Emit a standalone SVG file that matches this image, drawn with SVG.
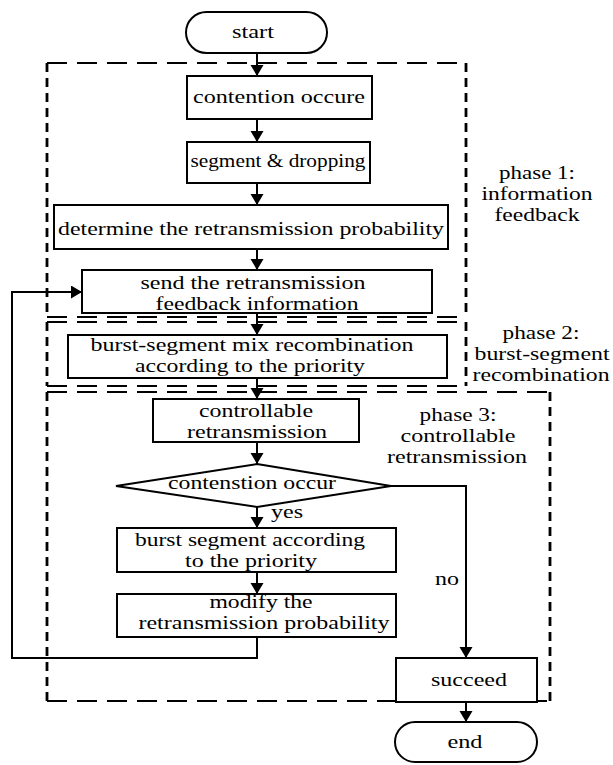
<svg xmlns="http://www.w3.org/2000/svg" width="613" height="765" viewBox="0 0 613 765">
<style>
text{font-family:"Liberation Serif","Times New Roman",serif;font-size:18.8px;fill:#000;text-anchor:middle}
.box{fill:#fff;stroke:#000;stroke-width:2}
.dh{fill:none;stroke:#000;stroke-width:2.2;stroke-dasharray:20 10}
.dv{fill:none;stroke:#000;stroke-width:2.8;stroke-dasharray:9 6}
.ln{fill:none;stroke:#000;stroke-width:2}
</style>
<defs>
<marker id="ah" markerUnits="userSpaceOnUse" markerWidth="12" markerHeight="14" refX="11" refY="6.5" orient="auto">
<path d="M0,0 L11,6.5 L0,13 z" fill="#000"/>
</marker>
</defs>
<rect width="613" height="765" fill="#fff"/>
<g id="phase1">
<path class="dh" d="M47,63 H466 M47,317 H466"/>
<path class="dv" d="M47,63 V317 M466,63 V317"/>
</g>
<g id="phase2">
<path class="dh" d="M47,322 H466 M47,386 H466"/>
<path class="dv" d="M47,322 V386 M466,322 V386"/>
</g>
<g id="phase3">
<path class="dh" d="M47,392 H550 M47,701 H550"/>
<path class="dv" d="M47,392 V701 M550,392 V701"/>
</g>
<g id="connectors">
<path class="ln" d="M257,53 V76" marker-end="url(#ah)"/>
<path class="ln" d="M257,119 V142" marker-end="url(#ah)"/>
<path class="ln" d="M257,183 V205" marker-end="url(#ah)"/>
<path class="ln" d="M257,249 V270" marker-end="url(#ah)"/>
<path class="ln" d="M257,313 V335" marker-end="url(#ah)"/>
<path class="ln" d="M257,378 V399" marker-end="url(#ah)"/>
<path class="ln" d="M257,442 V464" marker-end="url(#ah)"/>
<path class="ln" d="M257,507 V528" marker-end="url(#ah)"/>
<path class="ln" d="M257,572 V594" marker-end="url(#ah)"/>
<path class="ln" d="M391,486 H466 V658" marker-end="url(#ah)"/>
<path class="ln" d="M466,702 V722" marker-end="url(#ah)"/>
<path class="ln" d="M257,637 V658 H12 V292 H82" marker-end="url(#ah)"/>
<text x="271" y="518" style="text-anchor:start" textLength="32" lengthAdjust="spacingAndGlyphs">yes</text>
<text x="447" y="585" textLength="24" lengthAdjust="spacingAndGlyphs">no</text>
</g>
<g id="start">
<rect class="box" x="186" y="12" width="141" height="41" rx="20.5" ry="20.5"/>
<text x="253" y="38" textLength="42" lengthAdjust="spacingAndGlyphs">start</text>
</g>
<g id="contention">
<rect class="box" x="187" y="76" width="185" height="43"/>
<text x="279" y="103" textLength="172" lengthAdjust="spacingAndGlyphs">contention occure</text>
</g>
<g id="segment">
<rect class="box" x="187" y="142" width="183" height="41"/>
<text x="278" y="167" textLength="175" lengthAdjust="spacingAndGlyphs">segment &amp; dropping</text>
</g>
<g id="determine">
<rect class="box" x="54" y="205" width="394" height="44"/>
<text x="251" y="235" textLength="386" lengthAdjust="spacingAndGlyphs">determine the retransmission probability</text>
</g>
<g id="send">
<rect class="box" x="82" y="270" width="350" height="43"/>
<text x="253" y="289" textLength="225" lengthAdjust="spacingAndGlyphs">send the retransmission</text>
<text x="257" y="310" textLength="203" lengthAdjust="spacingAndGlyphs">feedback information</text>
</g>
<g id="mix">
<rect class="box" x="68" y="335" width="379" height="43"/>
<text x="252" y="351" textLength="323" lengthAdjust="spacingAndGlyphs">burst-segment mix recombination</text>
<text x="250" y="372" textLength="230" lengthAdjust="spacingAndGlyphs">according to the priority</text>
</g>
<g id="controllable">
<rect class="box" x="153" y="399" width="206" height="43"/>
<text x="256" y="417" textLength="114" lengthAdjust="spacingAndGlyphs">controllable</text>
<text x="257" y="438" textLength="140" lengthAdjust="spacingAndGlyphs">retransmission</text>
</g>
<g id="decision">
<path class="box" d="M257,464 L391,486 L257,507 L116,486 Z"/>
<text x="252" y="489" textLength="168" lengthAdjust="spacingAndGlyphs">contenstion occur</text>
</g>
<g id="burst">
<rect class="box" x="117" y="528" width="279" height="44"/>
<text x="250" y="546" textLength="230" lengthAdjust="spacingAndGlyphs">burst segment according</text>
<text x="251" y="567" textLength="132" lengthAdjust="spacingAndGlyphs">to the priority</text>
</g>
<g id="modify">
<rect class="box" x="117" y="594" width="279" height="43"/>
<text x="261" y="608" textLength="103" lengthAdjust="spacingAndGlyphs">modify the</text>
<text x="264" y="629" textLength="251" lengthAdjust="spacingAndGlyphs">retransmission probability</text>
</g>
<g id="succeed">
<rect class="box" x="396" y="658" width="141" height="44"/>
<text x="469" y="686" textLength="76" lengthAdjust="spacingAndGlyphs">succeed</text>
</g>
<g id="end">
<rect class="box" x="395" y="722" width="142" height="40" rx="20" ry="20"/>
<text x="465" y="748" textLength="35" lengthAdjust="spacingAndGlyphs">end</text>
</g>
<g id="label1">
<text x="537" y="179" textLength="76" lengthAdjust="spacingAndGlyphs">phase 1:</text>
<text x="537" y="200" textLength="111" lengthAdjust="spacingAndGlyphs">information</text>
<text x="537" y="221" textLength="85" lengthAdjust="spacingAndGlyphs">feedback</text>
</g>
<g id="label2">
<text x="541" y="339" textLength="77" lengthAdjust="spacingAndGlyphs">phase 2:</text>
<text x="542" y="360" textLength="135" lengthAdjust="spacingAndGlyphs">burst-segment</text>
<text x="541" y="381" textLength="137" lengthAdjust="spacingAndGlyphs">recombination</text>
</g>
<g id="label3">
<text x="458" y="421" textLength="77" lengthAdjust="spacingAndGlyphs">phase 3:</text>
<text x="458" y="442" textLength="115" lengthAdjust="spacingAndGlyphs">controllable</text>
<text x="457" y="463" textLength="140" lengthAdjust="spacingAndGlyphs">retransmission</text>
</g>
</svg>
